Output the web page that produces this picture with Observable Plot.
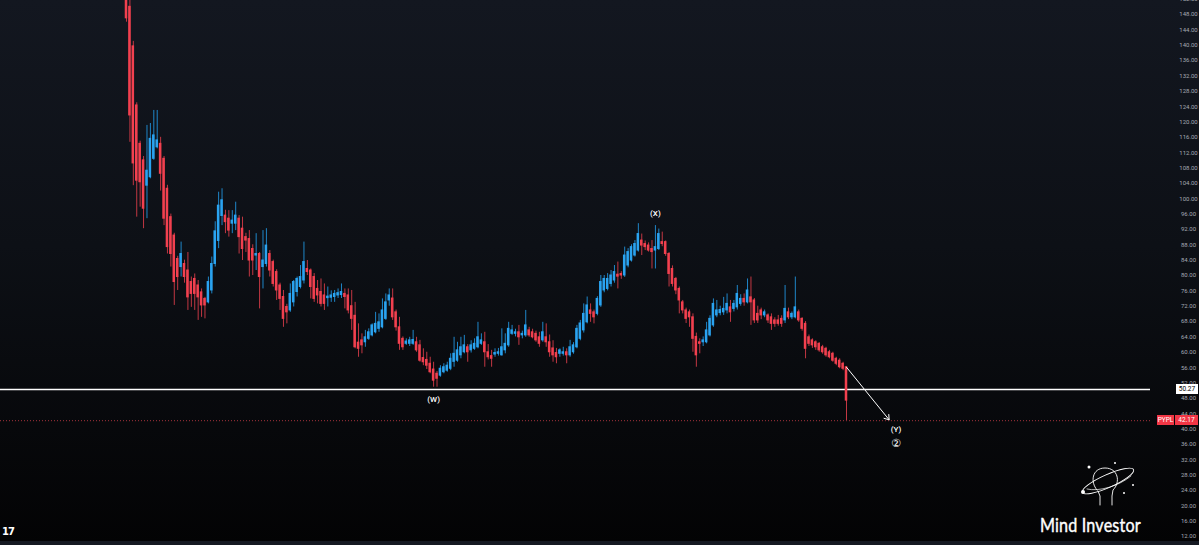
<!DOCTYPE html>
<html><head><meta charset="utf-8">
<script src="https://cdn.jsdelivr.net/npm/d3@7"></script>
<script src="https://cdn.jsdelivr.net/npm/@observablehq/plot@0.6"></script>
<style>
html,body{margin:0;padding:0;background:#000;}
#wrap{position:relative;width:1199px;height:545px;overflow:hidden;background:linear-gradient(to bottom,#131720 0%,#0d1016 45%,#030304 100%);font-family:Roboto,"Liberation Sans",sans-serif;}
#wrap svg.chart{position:absolute;left:0;top:0;}
.plabel{position:absolute;font-size:6.5px;line-height:10px;height:10px;text-align:center;font-family:Roboto,"Liberation Sans",sans-serif;}
#brand{position:absolute;left:1040px;top:513px;color:#fff;font-family:Lato,"Noto Sans",sans-serif;font-size:19px;letter-spacing:0.2px;transform:scaleX(0.85);transform-origin:left top;-webkit-text-stroke:0.4px #fff;}
#tv{position:absolute;left:2px;top:526px;color:#fff;font-family:"DejaVu Sans",sans-serif;font-weight:bold;font-size:10px;letter-spacing:-1px;}
#axisband{position:absolute;left:0;top:541px;width:1199px;height:4px;background:#151922;}
</style></head><body><div id="wrap"></div>
<script>
// Weekly OHLC candles (PYPL)
const opens = [165,150,139.7,124.3,114.3,110,103.4,105.6,110.4,113.4,
114.3,110.4,102.6,95.2,90.4,84.3,82.2,83.0,81.3,78.3,
79.1,77.4,75.6,73.9,73.0,76.1,83.0,89,95.5,95.6,
94.8,93.5,93.5,94.8,92.2,90.0,89.5,86.9,85.2,85.6,
82.2,83.0,85.6,83.5,80.9,77.4,74.4,71.8,70.9,73.0,
75.7,77.0,78.7,81.7,81.3,79.6,76.5,75.7,74.8,74.1,
74.2,74.4,74.8,74.9,75.2,74.8,72,69.5,62.5,63.1,
62.6,63.5,64.4,65.2,66.1,66.5,68.7,73.5,74,70.4,
66.5,63.5,62.2,62.2,62.2,62.6,61.8,58.5,58,57,
55.5,54.4,53.9,54.8,55.2,55.7,57.5,57.8,59.2,60.0,
61.3,60.5,60.9,61.3,62.2,62.6,60,59,59.4,59.6,
59.2,60.5,61.8,64.8,64.8,65.2,64.4,64.4,65.7,65.2,
64.8,63.9,63.1,63.9,62.6,61,59.8,59.6,59.6,60.0,
59.2,60.0,61.3,63.5,65.7,67.8,70.9,70.4,70.0,72.2,
76.1,76.5,77.8,78.7,80.2,80.4,80.0,82.6,83.9,85.2,
86.5,89.1,88.2,87.8,86.9,86.5,86.9,88.7,88.7,85.6,
81.7,79.1,76.5,73.0,70.9,70.4,69.1,64,62.6,62.6,
62.6,64.4,67.0,69.6,70.2,70.4,70.9,71.7,71.3,71.7,
72.6,73.9,73.0,74.3,73.5,70,70.9,69.6,69.6,69.1,
68.3,68.3,68.7,68.3,70.4,69.1,69.1,70.4,68.7,67.4,
63.9,63.1,62.6,62.2,61.3,60.9,60.0,59.6,58.3,57.8,
57.0,56.1];
const highs = [166,152,141,125,115,111,119.1,119.6,123,123,
116,111,103.5,96,91,85,88.7,84,86,79.6,
80.4,78.7,76.5,74.3,79.6,84.8,94,101.7,102.6,97,
96.9,96.9,99.1,95.6,95.2,91,91.7,88,90.9,86,
91.7,92.2,86.5,84,81.5,78,76.1,72.5,77.8,78.7,
79.6,82.6,88.7,83.9,81.7,80.5,78.7,79.1,77.8,77,
76,76.1,76.5,77.8,76.5,76.5,76.1,73,67.4,64.8,
65.7,66.1,67.4,70.4,70.0,73.9,75.2,76.5,76.5,71,
69.1,64,63.5,63.9,65.7,63.9,63.1,60.9,60,58.7,
57.4,55,56.5,57,57.4,59.6,63.9,62.6,63.9,64.4,
62,63,63.5,67.8,64.8,65.2,62,60.5,60.9,61,
66.1,64.8,67.8,67.0,66,67.0,65.5,70.9,66.5,66,
65.5,65.2,67.8,67.4,64.5,63,61,60.9,61.3,60.9,
63.1,62.5,67.0,68.3,72.6,74.4,72.6,71,74.5,80.0,
80,80.5,81.3,82.6,83.5,81,87.4,87,88,89.1,
93.5,90.8,89,88.5,89.1,93.0,92.1,91.3,89,86,
82.5,79.5,77,73.5,71.5,71,70,65,63.5,64,
67.8,69.5,73.9,73.5,72,74.3,75.2,73.5,73.5,77.4,
75,75.2,79.1,79.6,74,72,71.5,71,70,70,
69,69.6,69.5,77.4,71.5,70.5,79.6,71,69,68,
64.5,63.5,63,62.5,61.8,61.3,60.5,60,58.7,58.3,
57.4,56.3];
const lows = [146,114.7,103.4,95.2,97.8,92.2,94.8,105.2,110,113,
102,93,85.6,82.2,72.2,76.1,79.6,78,70.9,71.7,
70.9,68.3,69.1,68.7,72.6,75.2,82.2,87,93,90.9,
90,90.9,91.7,85.6,83.9,86,79.6,80,81.3,71.3,
76.5,82.2,79.6,77,73.5,70.9,66.5,67.4,70.4,71.8,
74.4,76.5,77.8,80,73.9,73.0,72.6,71.8,70.9,71.8,
73,73.0,74,74,71.3,70.0,65.7,60.9,58.7,59.6,
61.3,63.1,64,64.8,65.2,66.1,68.3,72,68.3,65.5,
60.5,60.5,61.8,61.5,61.8,60.0,57.4,56.5,55.5,54.4,
50.9,50.9,53.5,54.4,54.8,55.2,56.1,57.4,58.3,59.6,
57.4,59.8,60.5,60.9,61.8,56.1,58,56.1,58.7,59,
59,59.6,61.3,64.4,64,61.8,63.5,63.9,63.9,63.5,
62.6,61.3,62.6,61.3,58.7,57.4,57.0,58.7,59,57.0,
58.7,59.5,60.9,63,65,67.4,67.8,67.4,69.5,71.7,
75.5,76,77,78,76.5,79,79.5,82,83.5,84.8,
86.1,85.2,86.5,86.1,81.7,81.7,86.5,87.5,85,77.0,
77,75,70.0,70,67.5,66.5,60,56.1,59.6,61.5,
62.2,64,66.5,69,69.5,69.6,70.0,67.8,70.5,71,
72,72,72.6,67.0,67.5,67.5,68.5,69,67.5,65.7,
66.5,66.8,66.5,67.5,68.5,68.5,68.7,67.8,65.5,58.3,
61.5,61,60.5,60,59.5,58.7,58.3,57.4,56.5,55.7,
55.2,42.2];
const closes = [147,121.7,109.2,104.7,104.3,97.4,107.3,115.6,116.5,115.2,
106.5,94.8,87.4,85.6,78.3,79.6,85.6,79.6,74.3,75.2,
75.2,74.3,72.2,72.2,78.3,83.0,91.5,98.2,99.6,93.9,
91.7,94.3,95.6,90.0,86.9,89.1,83.9,83.9,85.6,79.6,
83.9,87.8,81.3,77.8,76.1,73.9,68.7,70.4,75.2,78.3,
79.1,79.6,83.5,80.9,77.0,73.9,74.8,72.6,72.6,74.5,
74.8,75.2,75.4,75.7,74.4,70.9,68.7,61.3,60.9,61.8,
63.9,65.2,67.0,67.4,67.8,70.9,73.0,74.8,69.1,66.5,
62.2,61.3,62.8,63.1,63.2,60.5,57.8,57.4,56.5,54.8,
52.6,53.1,55.7,56.1,56.5,58.3,59.6,60.5,61.3,61.8,
60.0,61.8,62.2,63.9,63.1,60.0,58.7,58.3,59.8,60.0,
61.3,62.2,66.1,65.7,65.2,63.9,64.8,67.0,64.4,63.9,
63.1,62.2,65.2,62.6,60.0,59.2,58.7,60.5,60.0,59.2,
61.3,61.8,66.1,67.5,70.0,72.2,70.0,69.1,73.9,78.3,
79.1,79.1,80.0,80.9,79.7,80.0,85.2,86.1,87.4,88.2,
90.8,87.8,87.4,86.5,86.1,87.4,90.8,88.2,85.6,80.4,
77.8,76.1,73.5,70.9,68.7,69.1,63.5,59.2,62.2,63.1,
65.7,68.7,72.6,70.9,71.0,71.3,72.6,70.4,72.6,75.2,
73.9,73.0,76.1,73.0,68.3,68.3,69.6,70.4,68.3,67.4,
67.4,67.4,67.4,71.3,69.1,70.0,71.7,68.3,66.1,60.9,
62.2,61.8,61.3,60.5,60.0,59.2,58.7,57.8,57.0,56.1,
55.7,47.4];

const priceTicks = d3.range(12, 153, 4);
const supportLevel = 50.27;
const lastPrice = 42.17;
const ticker = "PYPL";
const waveNames = ["(W)", "(X)", "(Y)", "②"];
const waveCandle = [90, 155, null, null];      // candle index the label sits on (null = projected)
const waveOffset = [0, 0, 14.5, 14.5];         // candles to the right of that index / of last candle
const wavePrice = [47.7, 96.2, 39.9, 36.2];
const arrowCandles = 12.5;                      // projected arrow length in candles
const arrowTarget = 42.4;

const UP = "#2aa3f0", DOWN = "#f2404f";
const UPW = "#1f86c8", DOWNW = "#c23743";

const candles = opens.map((o, i) => ({i, o, h: highs[i], l: lows[i], c: closes[i]}));
const last = candles.length - 1;
const waves = waveNames.map((t, k) => ({
  t, x: (waveCandle[k] === null ? last : waveCandle[k]) + waveOffset[k], y: wavePrice[k]
}));

const chart = Plot.plot({
  width: 1199, height: 545,
  marginLeft: 0, marginRight: 49, marginTop: 0, marginBottom: 0,
  style: {background: "transparent", overflow: "visible"},
  x: {type: "linear", domain: [0, last], range: [126, 846], axis: null},
  y: {type: "linear", domain: [12, 148], range: [536, 14], axis: null},
  marks: [
    Plot.ruleY([lastPrice], {stroke: "#d9404c", strokeOpacity: 0.75, strokeWidth: 1, strokeDasharray: "1,2"}),
    Plot.ruleY([supportLevel], {stroke: "#ffffff", strokeWidth: 1.5}),
    Plot.ruleX(candles, {x: "i", y1: "l", y2: "h", stroke: d => d.c >= d.o ? UPW : DOWNW, strokeWidth: 1}),
    Plot.rect(candles, {x1: d => d.i - 0.37, x2: d => d.i + 0.37, y1: "o", y2: "c",
      fill: d => d.c >= d.o ? UP : DOWN, insetTop: -0.5, insetBottom: -0.5}),
    Plot.arrow([candles[last]], {x1: "i", y1: "o", x2: d => d.i + arrowCandles, y2: () => arrowTarget,
      stroke: "#ffffff", strokeWidth: 1, headLength: 8, headAngle: 70}),
    Plot.text(waves.filter(d => d.t !== "②"), {x: "x", y: "y", text: "t", fill: "#ffffff", fontSize: 8,
      fontFamily: "Roboto, sans-serif", fontWeight: 500}),
    Plot.text(waves.filter(d => d.t === "②"), {x: "x", y: "y", text: "t", fill: "#ffffff", fontSize: 11,
      fontFamily: "DejaVu Sans, sans-serif"}),
    Plot.axisY({anchor: "right", ticks: priceTicks, tickSize: 0, tickPadding: 38, textAnchor: "middle",
      tickFormat: d => d.toFixed(2), fill: "#a6a9b2", fontSize: 6, fontFamily: "Roboto, sans-serif"})
  ]
});
chart.classList.add("chart");
const wrap = document.getElementById("wrap");
wrap.appendChild(chart);

const ys = chart.scale("y");
function label(text, left, width, value, bg, fg) {
  const d = document.createElement("div");
  d.className = "plabel";
  d.textContent = text;
  d.style.left = left + "px";
  d.style.width = width + "px";
  d.style.top = (ys.apply(value) - 5) + "px";
  d.style.background = bg;
  d.style.color = fg;
  wrap.appendChild(d);
}
label(supportLevel.toFixed(2), 1176, 22, supportLevel, "#ffffff", "#000000");
label(ticker, 1157, 17, lastPrice, "#f23645", "#ffffff");
label(lastPrice.toFixed(2), 1175, 23, lastPrice, "#f23645", "#ffffff");

wrap.insertAdjacentHTML("beforeend", `
<svg width="70" height="52" style="position:absolute;left:1075px;top:456px" viewBox="0 0 70 52">
  <g fill="none" stroke="#ffffff" stroke-width="0.9" stroke-linecap="round">
    <path d="M22 34 C15 26 17 12 30 12 C43 12 46 26 38 34 L37 40 L37 49 M23 35 L25 40 L25 49"/>
    <ellipse cx="33" cy="25" rx="28" ry="6.5" transform="rotate(-24 33 25)"/>
    <path d="M12 33 C24 36 44 30 56 20" stroke-width="0.7"/>
  </g>
  <g fill="#ffffff">
    <circle cx="8" cy="36" r="2"/><circle cx="14" cy="11" r="1.5"/><circle cx="40" cy="7" r="1"/>
    <circle cx="58" cy="29" r="1"/><circle cx="49" cy="37" r="1"/>
  </g>
</svg>
<div id="brand">Mind Investor</div>
<div id="tv">17</div>
<div id="axisband"></div>`);
</script>
</body></html>
